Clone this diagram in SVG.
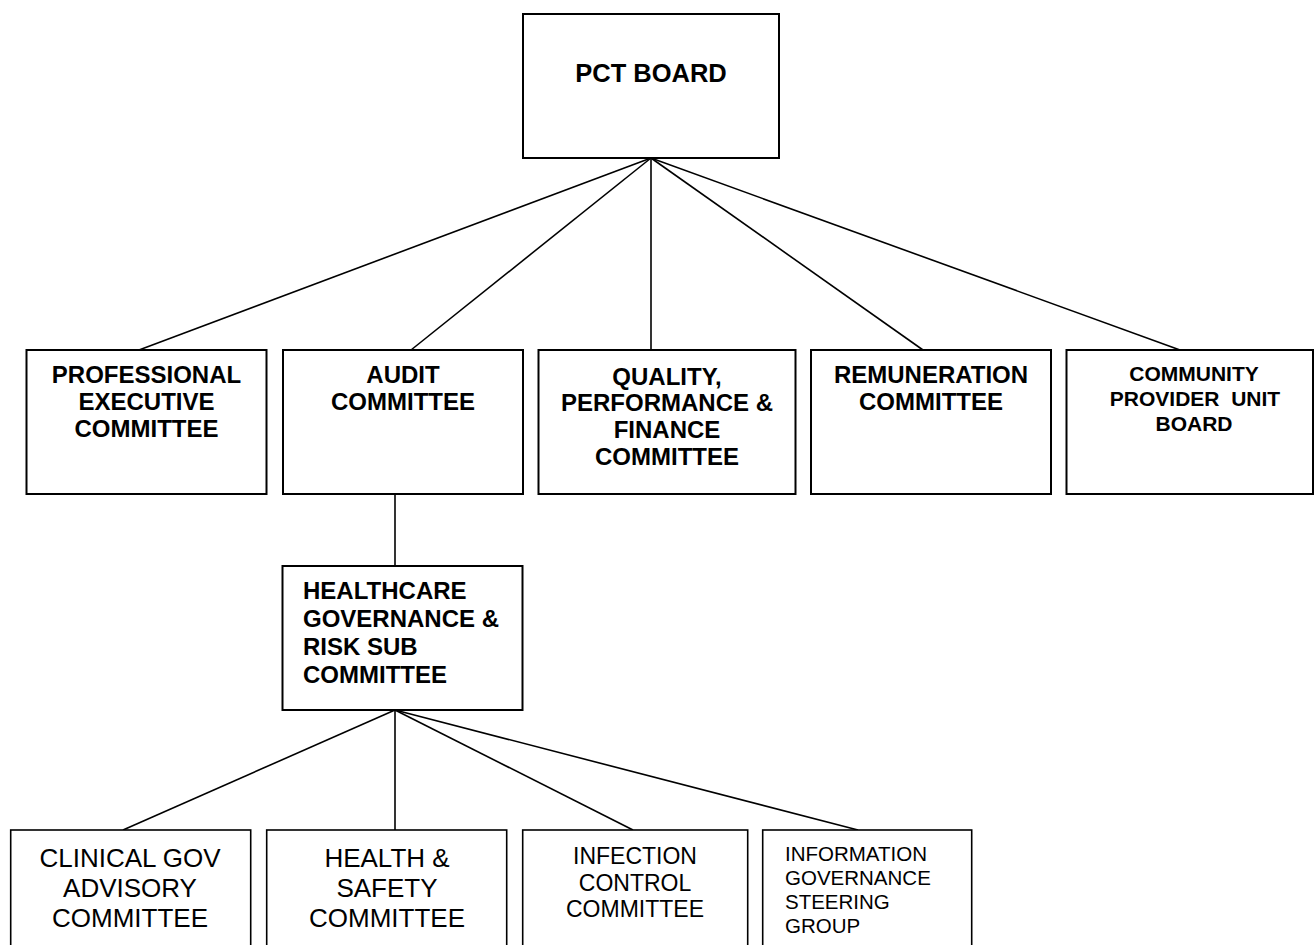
<svg xmlns="http://www.w3.org/2000/svg" width="1314" height="945" viewBox="0 0 1314 945">
<style>
  .box { fill: #ffffff; stroke: #000000; stroke-width: 2; }
  .box2 { fill: #ffffff; stroke: #000000; stroke-width: 1.6; }
  .conn line { stroke: #000000; stroke-width: 1.6; }
  .b { font-family: "Liberation Sans", Arial, sans-serif; font-weight: bold; fill: #000; }
  .r { font-family: "Liberation Sans", Arial, sans-serif; font-weight: normal; fill: #000; }
  .c { text-anchor: middle; }
</style>
<rect width="1314" height="945" fill="#ffffff"/>
<g id="connectors" class="conn">
  <line x1="651" y1="158" x2="139" y2="350"/>
  <line x1="651" y1="158" x2="411" y2="350"/>
  <line x1="651" y1="158" x2="651" y2="350"/>
  <line x1="651" y1="158" x2="923" y2="350"/>
  <line x1="651" y1="158" x2="1180" y2="350"/>
  <line x1="395" y1="494" x2="395" y2="566"/>
  <line x1="395" y1="710" x2="123" y2="830"/>
  <line x1="395" y1="710" x2="395" y2="830"/>
  <line x1="395" y1="710" x2="633" y2="830"/>
  <line x1="395" y1="710" x2="858" y2="830"/>
</g>
<g id="pct-board">
  <rect class="box" x="523" y="14" width="256" height="144"/>
  <text class="b c" x="651" y="82" font-size="25.5">PCT BOARD</text>
</g>
<g id="professional-executive">
  <rect class="box" x="26.5" y="350" width="240" height="144"/>
  <text class="b c" x="146.5" font-size="24"><tspan x="146.5" y="383">PROFESSIONAL</tspan><tspan x="146.5" y="410">EXECUTIVE</tspan><tspan x="146.5" y="437">COMMITTEE</tspan></text>
</g>
<g id="audit">
  <rect class="box" x="283" y="350" width="240" height="144"/>
  <text class="b c" x="403" font-size="24"><tspan x="403" y="383">AUDIT</tspan><tspan x="403" y="410">COMMITTEE</tspan></text>
</g>
<g id="quality">
  <rect class="box" x="538.5" y="350" width="257" height="144"/>
  <text class="b c" x="667" font-size="24"><tspan x="667" y="385">QUALITY,</tspan><tspan x="667" y="411">PERFORMANCE &amp;</tspan><tspan x="667" y="438">FINANCE</tspan><tspan x="667" y="465">COMMITTEE</tspan></text>
</g>
<g id="remuneration">
  <rect class="box" x="811" y="350" width="240" height="144"/>
  <text class="b c" x="931" font-size="24"><tspan x="931" y="383">REMUNERATION</tspan><tspan x="931" y="410">COMMITTEE</tspan></text>
</g>
<g id="community">
  <rect class="box" x="1066.5" y="350" width="246.5" height="144"/>
  <text class="b c" x="1194" font-size="21" xml:space="preserve"><tspan x="1194" y="381">COMMUNITY</tspan><tspan x="1195" y="406">PROVIDER  UNIT</tspan><tspan x="1194" y="431">BOARD</tspan></text>
</g>
<g id="healthcare-governance">
  <rect class="box" x="282.5" y="566" width="240" height="144"/>
  <text class="b" x="303" font-size="24"><tspan x="303" y="599">HEALTHCARE</tspan><tspan x="303" y="627">GOVERNANCE &amp;</tspan><tspan x="303" y="655">RISK SUB</tspan><tspan x="303" y="683">COMMITTEE</tspan></text>
</g>
<g id="clinical-gov">
  <rect class="box2" x="10.7" y="830" width="240" height="140"/>
  <text class="r c" x="130" font-size="26"><tspan x="130" y="867">CLINICAL GOV</tspan><tspan x="130" y="897">ADVISORY</tspan><tspan x="130" y="927">COMMITTEE</tspan></text>
</g>
<g id="health-safety">
  <rect class="box2" x="266.7" y="830" width="240" height="140"/>
  <text class="r c" x="387" font-size="26"><tspan x="387" y="867">HEALTH &amp;</tspan><tspan x="387" y="897">SAFETY</tspan><tspan x="387" y="927">COMMITTEE</tspan></text>
</g>
<g id="infection-control">
  <rect class="box2" x="522.7" y="830" width="225" height="140"/>
  <text class="r c" x="635" font-size="23"><tspan x="635" y="864">INFECTION</tspan><tspan x="635" y="891">CONTROL</tspan><tspan x="635" y="917">COMMITTEE</tspan></text>
</g>
<g id="information-governance">
  <rect class="box2" x="762.7" y="830" width="209" height="140"/>
  <text class="r" x="785" font-size="20.5"><tspan x="785" y="861">INFORMATION</tspan><tspan x="785" y="885">GOVERNANCE</tspan><tspan x="785" y="909">STEERING</tspan><tspan x="785" y="933">GROUP</tspan></text>
</g>
</svg>
